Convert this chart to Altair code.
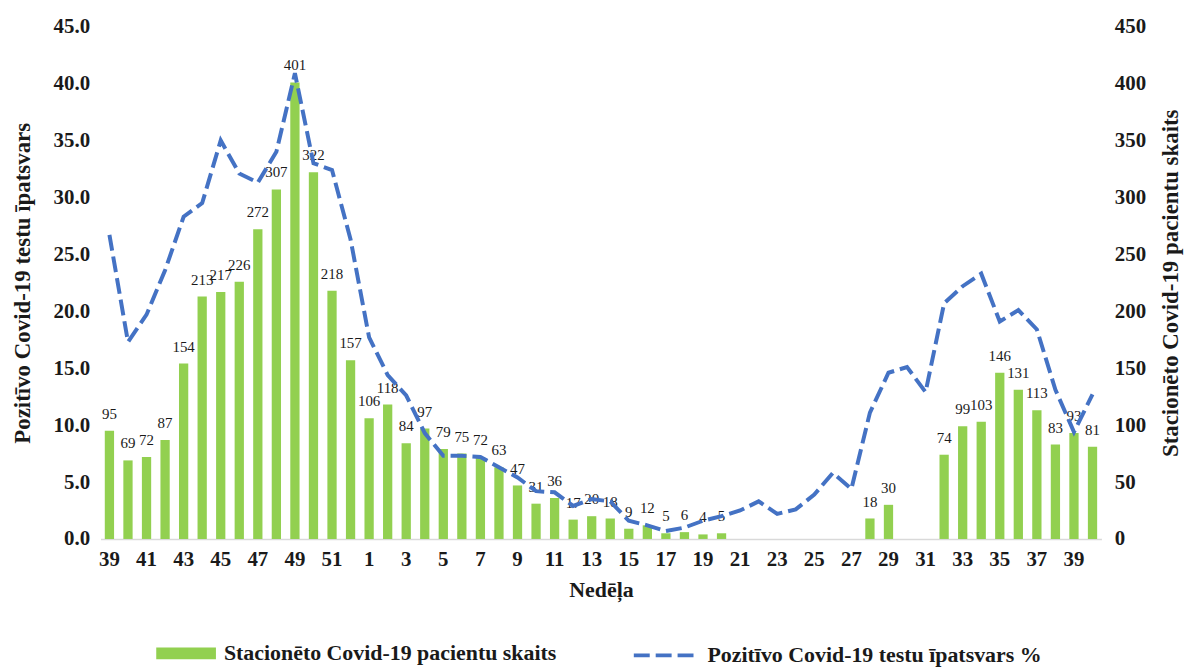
import altair as alt
import pandas as pd

# ---- data ----
weeks_2020 = [39, 40, 41, 42, 43, 44, 45, 46, 47, 48, 49, 50, 51, 52]
weeks_2021 = list(range(1, 41))

patients_2020 = [95, 69, 72, 87, 154, 213, 217, 226, 272, 307, 401, 322, 218, 157]
patients_2021 = [106, 118, 84, 97, 79, 75, 72, 63, 47, 31,
                 36, 17, 20, 18, 9, 12, 5, 6, 4, 5,
                 None, None, None, None, None, None, None, 18, 30, None,
                 None, 74, 99, 103, 146, 131, 113, 83, 93, 81]

positivity_2020 = [26.7, 17.3, 19.7, 23.6, 28.3, 29.5, 35.0, 32.1, 31.3, 34.0,
                   40.9, 33.0, 32.4, 26.3]
positivity_2021 = [17.7, 14.4, 12.6, 9.3, 7.3, 7.3, 7.2, 6.3, 5.4, 4.2,
                   4.1, 2.9, 3.5, 3.3, 1.6, 1.2, 0.7, 1.0, 1.6, 2.0,
                   2.5, 3.3, 2.2, 2.6, 3.9, 5.8, 4.4, 11.1, 14.6, 15.1,
                   12.9, 20.7, 22.2, 23.3, 19.1, 20.1, 18.4, 13.1, 9.4, 12.7]

bar_name = "Stacionēto Covid-19 pacientu skaits"
line_name = "Pozitīvo Covid-19 testu īpatsvars %"

keys = [f"2020-{w}" for w in weeks_2020] + [f"2021-{w}" for w in weeks_2021]
df = pd.DataFrame({
    "key": keys,
    "patients": patients_2020 + patients_2021,
    "positivity": positivity_2020 + positivity_2021,
})
df["bar_series"] = bar_name
df["line_series"] = line_name

FONT = "Liberation Serif"
GREEN = "#92D050"
BLUE = "#4472C4"
TXT = "#1a1a1a"

x_enc = alt.X(
    "key:N",
    sort=keys,
    scale=alt.Scale(paddingInner=0.5, paddingOuter=0.23),
    axis=alt.Axis(
        values=keys[::2],
        labelExpr="split(datum.value, '-')[1]",
        labelAngle=0,
        ticks=False,
        domain=True,
        domainColor="#d9d9d9",
        domainWidth=1.5,
        labelPadding=10,
        title="Nedēļa",
        titlePadding=10,
        titleFontSize=22,
    ),
)

y_right = alt.Y(
    "patients:Q",
    scale=alt.Scale(domain=[0, 450], nice=False),
    axis=alt.Axis(
        orient="right",
        values=list(range(0, 451, 50)),
        format="d",
        title=bar_name,
        titleAngle=270,
        titleBaseline="top",
        titlePadding=14,
        titleFontSize=23,
        labelPadding=13,
        domain=False,
        ticks=False,
        grid=False,
    ),
)

bar_base = alt.Chart(df).transform_filter("isValid(datum.patients)").encode(
    x=x_enc, y=y_right
)

bars = bar_base.mark_bar(color=GREEN).encode(
    color=alt.Color(
        "bar_series:N",
        scale=alt.Scale(domain=[bar_name], range=[GREEN]),
        legend=alt.Legend(
            title=None,
            orient="none",
            legendX=56,
            legendY=600,
            symbolType="M-1,-0.2H1V0.2H-1Z",
            symbolSize=3600,
            symbolStrokeWidth=0,
            labelOffset=8,
            labelLimit=600,
            labelFont=FONT,
            labelFontSize=22,
            labelFontWeight="bold",
            labelColor=TXT,
        ),
    )
)

labels = bar_base.mark_text(
    baseline="bottom", dy=-9, font=FONT, fontSize=15, color=TXT
).encode(text=alt.Text("patients:Q", format="d"))

line = alt.Chart(df).mark_line(
    color=BLUE, strokeWidth=4
).encode(
    x=x_enc,
    y=alt.Y(
        "positivity:Q",
        scale=alt.Scale(domain=[0, 45], nice=False),
        axis=alt.Axis(
            orient="left",
            values=list(range(0, 46, 5)),
            format=".1f",
            title="Pozitīvo Covid-19 testu īpatsvars",
            titlePadding=19,
            titleFontSize=23,
            labelPadding=11,
            domain=False,
            ticks=False,
            grid=False,
        ),
    ),
    strokeDash=alt.StrokeDash(
        "line_series:N",
        scale=alt.Scale(domain=[line_name], range=[[16, 6]]),
        legend=alt.Legend(
            title=None,
            orient="none",
            legendX=534,
            legendY=600,
            symbolType="stroke",
            symbolSize=3600,
            symbolStrokeWidth=4,
            symbolStrokeColor=BLUE,
            labelOffset=12,
            labelLimit=600,
            labelFont=FONT,
            labelFontSize=22,
            labelFontWeight="bold",
            labelColor=TXT,
        ),
    ),
)

chart = (
    alt.layer(alt.layer(bars, labels), line)
    .resolve_scale(y="independent")
    .properties(
        width=1006,
        height=515,
        padding={"left": 93, "top": 17, "right": 83, "bottom": 127},
        autosize=alt.AutoSizeParams(type="none"),
        background="white",
    )
    .configure_view(stroke=None)
    .configure_axis(
        labelFont=FONT,
        labelFontSize=21,
        labelFontWeight="bold",
        labelColor=TXT,
        titleFont=FONT,
        titleFontSize=21,
        titleFontWeight="bold",
        titleColor=TXT,
        grid=False,
    )
)

chart.save("out.html", embed_options={"renderer": "svg", "actions": False})
